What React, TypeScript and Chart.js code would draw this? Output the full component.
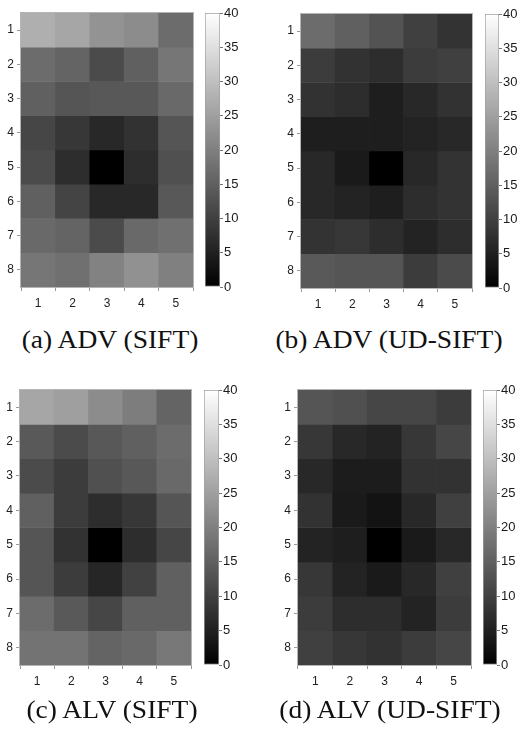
import React, { useEffect, useRef } from "react";
import { Chart, registerables } from "chart.js";

Chart.register(...registerables);

const xLabels = ["1", "2", "3", "4", "5"];
const yLabels = ["1", "2", "3", "4", "5", "6", "7", "8"];
const colorbarTicks = [0, 5, 10, 15, 20, 25, 30, 35, 40];
const vMin = 0;
const vMax = 40;

// rows 1..8 (top to bottom), columns 1..5
const advSift = [
  [27.5, 26, 23, 22, 17],
  [17, 15.7, 11.8, 15, 18.5],
  [15, 13.3, 13.8, 13.8, 16.5],
  [11, 8.6, 6.3, 7.8, 13.3],
  [11.8, 7, 0, 7, 12.5],
  [15, 10.7, 6.3, 6.3, 13.8],
  [16.5, 15.7, 11.8, 16.5, 17.6],
  [18.5, 17.6, 20.4, 22.7, 20],
];
const advUdSift = [
  [17, 15, 13, 10, 8],
  [9.4, 7.8, 7, 9.4, 10],
  [7.8, 7, 4.7, 6.3, 7.8],
  [4.7, 4.7, 4.7, 5.5, 6.3],
  [6.3, 4, 0, 6.3, 8],
  [6.3, 5.5, 4.7, 7, 8],
  [8, 8.6, 7, 5.5, 7],
  [14, 13.3, 13.3, 9.4, 11.8],
];
const alvSift = [
  [26, 25, 22, 19.6, 15.7],
  [14, 11.8, 13.8, 15, 17],
  [11.8, 9.4, 12.5, 13.8, 16.5],
  [15, 9.4, 7, 8.6, 13.3],
  [13.3, 7.8, 0, 7, 11],
  [13.3, 9.4, 6, 10.2, 15],
  [17, 14, 11, 15, 15],
  [18, 18, 15.7, 16.5, 18.8],
];
const alvUdSift = [
  [13.3, 12.5, 11, 11, 9.4],
  [8.6, 6.3, 5.5, 8.6, 11],
  [6.3, 4.4, 4.4, 7.8, 7.8],
  [7.8, 4, 3, 6.3, 10],
  [5.5, 4.7, 0, 4, 6.3],
  [8.6, 5.5, 4, 6.3, 10],
  [9.4, 7, 7, 5.5, 9.4],
  [10, 8.6, 7.8, 9.4, 11],
];

const TICK_FONT = "'Liberation Sans', Arial, sans-serif";

function gray(v: number) {
  const t = Math.max(0, Math.min(1, (v - vMin) / (vMax - vMin)));
  const g = Math.round(t * 255);
  return `rgb(${g},${g},${g})`;
}

const frame = {
  id: "frame",
  afterDatasetsDraw(chart: any) {
    const a = chart.chartArea;
    const ctx = chart.ctx;
    ctx.save();
    ctx.strokeStyle = "#b4b4b4";
    ctx.lineWidth = 1;
    ctx.strokeRect(a.left - 0.5, a.top - 0.5, a.right - a.left + 1, a.bottom - a.top + 1);
    ctx.restore();
  },
};

type PanelProps = {
  values: number[][];
  L: number;
  T: number;
  R: number;
  B: number;
  cbL: number;
  cbR: number;
  caption: string;
  capX: number;
  capY: number;
};

function Heat({ values, L, T, R, B }: PanelProps) {
  const ref = useRef<HTMLCanvasElement>(null);
  const padL = 21, padT = 13, padR = 7, padB = 33;
  const w = R - L + padL + padR;
  const h = B - T + padT + padB;
  useEffect(() => {
    const datasets = values.map((row, r) => ({
      label: yLabels[r],
      data: row.map(() => [r + 0.5, r + 1.5]),
      backgroundColor: row.map((v) => gray(v)),
      borderWidth: 0,
      grouped: false,
      categoryPercentage: 1,
      barPercentage: 1,
    }));
    const chart = new Chart(ref.current!, {
      type: "bar",
      data: { labels: xLabels, datasets: datasets as any },
      options: {
        responsive: false,
        animation: false,
        plugins: { legend: { display: false }, tooltip: { enabled: false } },
        layout: { padding: { left: 0, top: padT, right: padR, bottom: 0 } },
        scales: {
          x: {
            grid: { display: true, drawOnChartArea: false, tickLength: 4, color: "#999" },
            border: { display: false },
            ticks: { color: "#222", font: { family: TICK_FONT, size: 12 }, padding: 5, maxRotation: 0 },
            afterFit: (s: any) => { s.height = padB; },
          },
          y: {
            type: "linear",
            min: 0.5,
            max: 8.5,
            reverse: true,
            grid: { display: true, drawOnChartArea: false, tickLength: 4, color: "#999" },
            border: { display: false },
            afterBuildTicks: (s: any) => {
              s.ticks = yLabels.map((_, i) => ({ value: i + 1 }));
            },
            ticks: {
              color: "#222",
              font: { family: TICK_FONT, size: 12 },
              padding: 3,
              callback: (v: any) => yLabels[Number(v) - 1] ?? "",
            },
            afterFit: (s: any) => { s.width = padL; },
          },
        },
      },
      plugins: [frame],
    });
    return () => chart.destroy();
  }, []);
  return (
    <canvas
      ref={ref}
      width={w}
      height={h}
      style={{ position: "absolute", left: L - padL, top: T - padT, width: w, height: h }}
    />
  );
}

function ColorBar({ T, B, cbL, cbR }: PanelProps) {
  const ref = useRef<HTMLCanvasElement>(null);
  const padL = 5, padT = 13, padB = 33, axisW = 40;
  const w = cbR - cbL + padL + axisW;
  const h = B - T + padT + padB;
  useEffect(() => {
    const chart = new Chart(ref.current!, {
      type: "bar",
      data: {
        labels: [""],
        datasets: [
          {
            data: [[vMin, vMax]] as any,
            backgroundColor: (c: any) => {
              const a = c.chart.chartArea;
              if (!a) return "#888";
              const g = c.chart.ctx.createLinearGradient(0, a.bottom, 0, a.top);
              g.addColorStop(0, "#000");
              g.addColorStop(1, "#fff");
              return g;
            },
            borderColor: "#a0a0a0",
            borderWidth: 1,
            borderSkipped: false,
            categoryPercentage: 1,
            barPercentage: 1,
          } as any,
        ],
      },
      options: {
        responsive: false,
        animation: false,
        plugins: { legend: { display: false }, tooltip: { enabled: false } },
        layout: { padding: { left: padL, top: padT, right: 0, bottom: padB } },
        scales: {
          x: { display: false },
          y: {
            position: "right",
            min: vMin,
            max: vMax,
            afterBuildTicks: (s: any) => {
              s.ticks = colorbarTicks.map((v) => ({ value: v }));
            },
            grid: { display: true, drawOnChartArea: false, tickLength: 3, color: "#777" },
            border: { display: false },
            ticks: { color: "#1a1a1a", font: { family: TICK_FONT, size: 13 }, padding: 1 },
            afterFit: (s: any) => { s.width = axisW; },
          },
        },
      },
    });
    return () => chart.destroy();
  }, []);
  return (
    <canvas
      ref={ref}
      width={w}
      height={h}
      style={{ position: "absolute", left: cbL - padL, top: T - padT, width: w, height: h }}
    />
  );
}

function Panel(p: PanelProps) {
  return (
    <>
      <Heat {...p} />
      <ColorBar {...p} />
      <div
        style={{
          position: "absolute",
          left: p.capX - 150,
          width: 300,
          top: p.capY - 16,
          height: 32,
          lineHeight: "32px",
          textAlign: "center",
          fontFamily: "'Liberation Serif', 'Times New Roman', serif",
          fontSize: 25,
          color: "#111",
          transform: "scaleX(1.1)",
          whiteSpace: "nowrap",
        }}
      >
        {p.caption}
      </div>
    </>
  );
}

const panels: PanelProps[] = [
  { values: advSift, L: 21, T: 13, R: 193, B: 287, cbL: 205, cbR: 220, caption: "(a) ADV (SIFT)", capX: 110, capY: 340 },
  { values: advUdSift, L: 301, T: 14, R: 472, B: 288, cbL: 485, cbR: 499, caption: "(b) ADV (UD-SIFT)", capX: 389, capY: 340 },
  { values: alvSift, L: 20, T: 390, R: 191, B: 665, cbL: 204, cbR: 219, caption: "(c) ALV (SIFT)", capX: 112, capY: 710 },
  { values: alvUdSift, L: 298, T: 390, R: 471, B: 665, cbL: 483, cbR: 497, caption: "(d) ALV (UD-SIFT)", capX: 390, capY: 710 },
];

export default function App() {
  return (
    <div style={{ position: "absolute", left: 0, top: 0, width: 517, height: 740, background: "#fff", overflow: "hidden" }}>
      {panels.map((p, i) => (
        <Panel key={i} {...p} />
      ))}
    </div>
  );
}
